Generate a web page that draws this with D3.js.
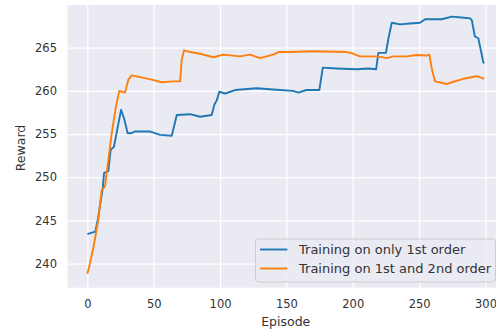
<!DOCTYPE html>
<html>
<head>
<meta charset="utf-8">
<script src="https://cdn.jsdelivr.net/npm/d3@7"></script>
<style>
  body { margin: 0; background: #fff; }
  text { font-family: "DejaVu Sans", sans-serif; fill: #333333; }
</style>
</head>
<body>
<script>
// episodes / rewards
var blueEp = [0, 6, 8, 11.6, 12.6, 15.8, 17.6, 20, 23.4, 25.4, 27.7, 30.4, 33, 36, 47, 54.8, 63.6, 67.4, 77.4, 85, 93.7, 95.7, 97.5, 99.5, 103.8, 111.3, 127.6, 145, 155, 159, 165, 174.8, 177.4, 188, 203, 211.8, 217.6, 219.3, 225, 226.9, 229.4, 235.6, 243, 250.7, 254.5, 267, 274.6, 282, 288.4, 289.7, 292, 294.6, 298.4, 299];
var blueVal = [243.4, 243.7, 245.2, 248.7, 250.5, 250.7, 253.2, 253.5, 256.2, 257.8, 256.8, 255.1, 255.1, 255.3, 255.3, 254.9, 254.8, 257.2, 257.3, 257.0, 257.2, 258.4, 258.9, 259.9, 259.7, 260.1, 260.3, 260.1, 260.0, 259.8, 260.1, 260.1, 262.7, 262.6, 262.5, 262.6, 262.5, 264.4, 264.4, 266.1, 267.9, 267.7, 267.8, 267.9, 268.3, 268.3, 268.6, 268.5, 268.4, 268.2, 266.3, 266.1, 263.3, 263.2];

var orangeEp = [0, 1.5, 4.5, 8.3, 10.8, 13.3, 15.8, 18.4, 21.6, 24.1, 28.4, 30.9, 33.5, 39.7, 48.5, 56, 64.8, 69.9, 71.1, 72.9, 77.4, 85, 95, 102.5, 115, 122.6, 130, 140, 144, 152.8, 170, 195.5, 200.5, 205.5, 218, 225.6, 230.6, 240.7, 248, 255.8, 257.7, 259.5, 262, 270.8, 274.6, 283.3, 293.4, 298.4, 299];
var orangeVal = [238.8, 239.7, 241.8, 245.1, 248.5, 248.9, 252.0, 255.1, 258.2, 260.0, 259.8, 261.3, 261.8, 261.6, 261.3, 261.0, 261.1, 261.1, 263.6, 264.7, 264.5, 264.3, 263.9, 264.2, 264.0, 264.2, 263.8, 264.2, 264.5, 264.5, 264.6, 264.5, 264.3, 264.0, 264.0, 263.8, 264.0, 264.0, 264.15, 264.1, 264.2, 262.6, 261.1, 260.8, 261.0, 261.4, 261.7, 261.45, 261.4];

var seriesNames = ['Training on only 1st order', 'Training on 1st and 2nd order'];
var xTicks = [0, 50, 100, 150, 200, 250, 300];
var yTicks = [240, 245, 250, 255, 260, 265];

var W = 496, H = 331;
var mLeft = 67.5, mRight = 504, mTop = 5, mBottom = 287.7;

var svg = d3.select('body').append('svg').attr('width', W).attr('height', H);

var x = d3.scaleLinear().domain([-14.95, 313.95]).range([mLeft, mRight]);
var y = d3.scaleLinear().domain([237.2, 269.95]).range([mBottom, mTop]);

svg.append('rect')
    .attr('x', mLeft).attr('y', mTop)
    .attr('width', mRight - mLeft).attr('height', mBottom - mTop)
    .attr('fill', '#eaeaf2');

svg.append('clipPath').attr('id', 'clip').append('rect')
    .attr('x', mLeft).attr('y', mTop)
    .attr('width', mRight - mLeft).attr('height', mBottom - mTop);

//grid
var xAxis = d3.axisBottom(x).tickValues(xTicks).tickSize(-(mBottom - mTop)).tickPadding(12);
var yAxis = d3.axisLeft(y).tickValues(yTicks).tickSize(-(mRight - mLeft)).tickPadding(10.5);

var gx = svg.append('g').attr('transform', 'translate(0,' + mBottom + ')').call(xAxis);
var gy = svg.append('g').attr('transform', 'translate(' + mLeft + ',0)').call(yAxis);

[gx, gy].forEach(function (g) {
    g.select('.domain').remove();
    g.selectAll('.tick line').attr('stroke', '#fff').attr('stroke-width', 1.25);
    g.selectAll('.tick text').style('font-size', '11.5px').attr('fill', '#333333');
});

svg.append('text').attr('x', (mLeft + mRight) / 2).attr('y', 325.5)
    .attr('text-anchor', 'middle').style('font-size', '12.5px').text('Episode');
svg.append('text').attr('transform', 'translate(24.5,148) rotate(-90)')
    .attr('text-anchor', 'middle').style('font-size', '12.5px').text('Reward');

var line = d3.line()
    .x(function (d) { return x(d[0]); })
    .y(function (d) { return y(d[1]); });

var colors = ['#1f77b4', '#ff7f0e'];
var series = [d3.zip(blueEp, blueVal), d3.zip(orangeEp, orangeVal)];

svg.append('g').attr('clip-path', 'url(#clip)')
    .selectAll('path')
    .data(series)
    .enter()
    .append('path')
    .attr('d', line)
    .attr('fill', 'none')
    .attr('stroke', function (d, i) { return colors[i]; })
    .attr('stroke-width', 1.9)
    .attr('stroke-linejoin', 'round');

//legend
var lg = svg.append('g');
lg.append('rect')
    .attr('x', 255.5).attr('y', 239).attr('width', 240).attr('height', 43)
    .attr('rx', 3)
    .attr('fill', '#eaeaf2').attr('fill-opacity', 0.8)
    .attr('stroke', '#cccccc').attr('stroke-width', 1);

var items = lg.selectAll('g.item')
    .data(seriesNames)
    .enter()
    .append('g')
    .attr('class', 'item')
    .attr('transform', function (d, i) { return 'translate(0,' + (249.5 + i * 19) + ')'; });

items.append('line')
    .attr('x1', 260).attr('x2', 287.3)
    .attr('stroke', function (d, i) { return colors[i]; })
    .attr('stroke-width', 1.9);

items.append('text')
    .attr('x', 299).attr('dy', '0.35em')
    .style('font-size', '13px')
    .text(function (d) { return d; });
</script>
</body>
</html>
